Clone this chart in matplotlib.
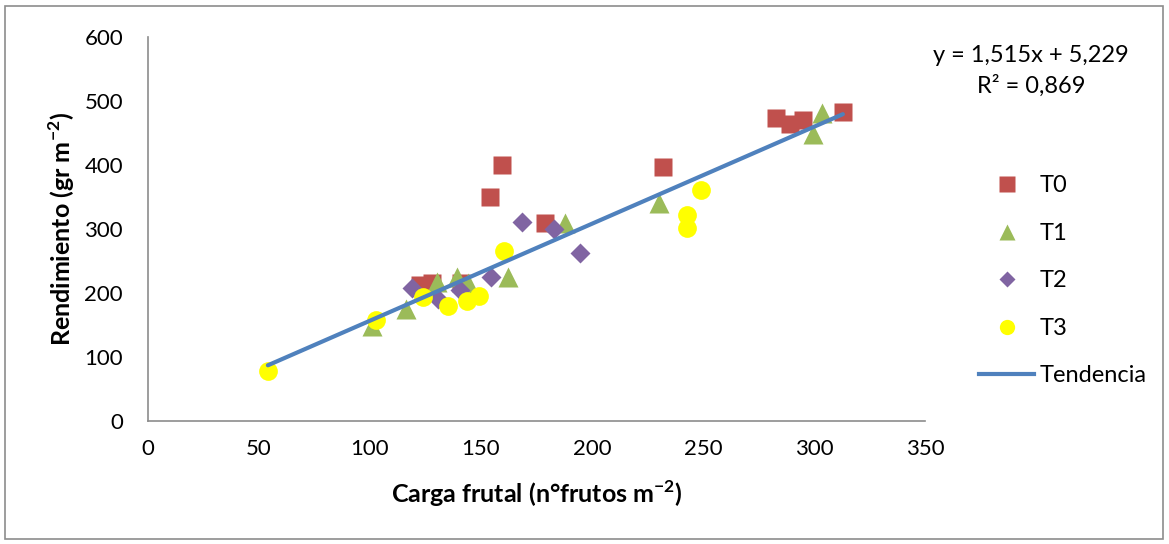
import matplotlib
matplotlib.use("Agg")
import matplotlib.pyplot as plt
from matplotlib.patches import Rectangle
from matplotlib.lines import Line2D
import numpy as np

plt.rcParams['font.family'] = ['Lato', 'DejaVu Sans']
plt.rcParams['mathtext.fontset'] = 'custom'
plt.rcParams['mathtext.rm'] = 'Lato'
plt.rcParams['mathtext.bf'] = 'Lato:bold'

# data
t0_x = [154, 159.5, 179, 232, 283, 289, 295, 313, 122.5, 128, 141]
t0_y = [350, 400, 309, 397, 473, 464, 470, 483, 212, 215, 215]

t1_x = [101, 116, 130, 139, 144, 162, 188, 230, 299.5, 303.6]
t1_y = [148, 175, 217, 225, 215, 225, 309, 341, 448, 481]

t2_x = [119, 130.6, 140.5, 154.5, 194.6, 168.5, 183]
t2_y = [208, 190, 205, 225, 262, 311, 300]

t3_x = [54, 102.7, 124, 135, 143.7, 149, 160.4, 249, 243, 243]
t3_y = [78, 158, 194, 180, 187, 195, 265, 361, 322, 301]

slope = 1.515
intercept = 5.229
r2 = 0.869

RED = '#C0504D'
GREEN = '#9BBB59'
PURPLE = '#8064A2'
YELLOW = '#FFFF00'
BLUE = '#4F81BD'

fig = plt.figure(figsize=(11.69, 5.44), dpi=100)
ax = fig.add_axes([148 / 1169, 1 - 421 / 544, (925 - 148) / 1169, (421 - 37) / 544])

ax.plot(t0_x, t0_y, 's', color=RED, markersize=13.5, markeredgecolor='none', label='T0')
ax.plot(t1_x, t1_y, '^', color=GREEN, markersize=14, markeredgecolor='none', label='T1')
ax.plot(t2_x, t2_y, 'D', color=PURPLE, markersize=10, markeredgecolor='none', label='T2')
ax.plot(t3_x, t3_y, 'o', color=YELLOW, markersize=13.5, markeredgecolor='none', label='T3')

all_x = np.array(t0_x + t1_x + t2_x + t3_x)
xs = np.array([all_x.min(), all_x.max()])
ax.plot(xs, slope * xs + intercept, color=BLUE, linewidth=3, label='Tendencia',
        solid_capstyle='round')

ax.set_xlim(0, 350)
ax.set_ylim(0, 600)
ax.set_xticks(np.arange(0, 351, 50))
ax.set_yticks(np.arange(0, 601, 100))
ax.tick_params(length=0, labelsize=16)
ax.tick_params(axis='x', pad=13)
ax.tick_params(axis='y', pad=18)
for s in ['top', 'right']:
    ax.spines[s].set_visible(False)
for s in ['left', 'bottom']:
    ax.spines[s].set_color('#8c8c8c')
    ax.spines[s].set_linewidth(1.2)

ax.set_xlabel(r'Carga frutal (n°frutos m$^{\mathbf{-2}}$)', fontsize=18, fontweight='bold', labelpad=14)
ax.set_ylabel(r'Rendimiento (gr m$^{\mathbf{-2}}$)', fontsize=18, fontweight='bold', labelpad=5)

fig.text(1031 / 1169, 1 - 55 / 544, f'y = {slope:.3f}x + {intercept:.3f}'.replace('.', ','),
         ha='center', va='center', fontsize=17)
fig.text(1031 / 1169, 1 - 86 / 544, f'R² = {r2:.3f}'.replace('.', ','),
         ha='center', va='center', fontsize=17)

handles = [
    Line2D([], [], marker='s', color=RED, linestyle='none', markersize=11, markeredgecolor='none'),
    Line2D([], [], marker='^', color=GREEN, linestyle='none', markersize=11, markeredgecolor='none'),
    Line2D([], [], marker='D', color=PURPLE, linestyle='none', markersize=8, markeredgecolor='none'),
    Line2D([], [], marker='o', color=YELLOW, linestyle='none', markersize=11, markeredgecolor='none'),
    Line2D([], [], color=BLUE, linewidth=3),
]
fig.legend(handles, ['T0', 'T1', 'T2', 'T3', 'Tendencia'], loc='upper left',
           bbox_to_anchor=(970 / 1169, 1 - 166 / 544), frameon=False, fontsize=17,
           labelspacing=1.12, handlelength=2.3, handletextpad=0.25, borderaxespad=0)

fig.patches.append(Rectangle((5 / 1169, 5 / 544), 1 - 11 / 1169, 1 - 11 / 544,
                             transform=fig.transFigure, fill=False,
                             edgecolor='#8c8c8c', linewidth=1.2))

fig.savefig('out.png', dpi=100)
